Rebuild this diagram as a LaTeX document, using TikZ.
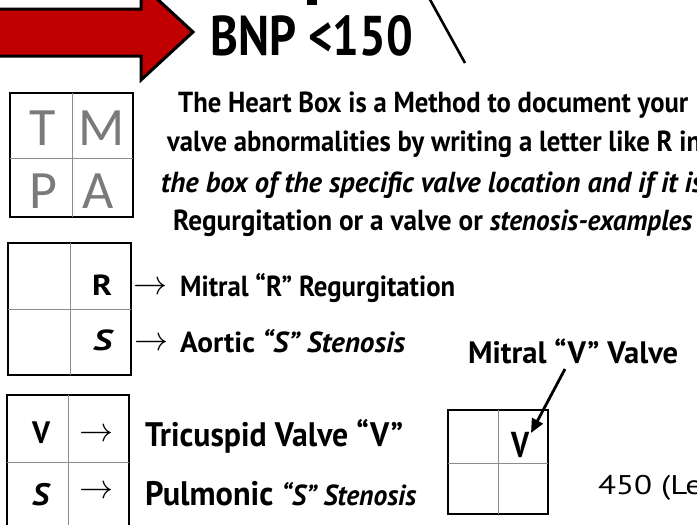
\documentclass[tikz,border=0pt]{standalone}
\usepackage{fontspec}
\usepackage{graphicx}
\setmainfont{PT Sans}
\newfontfamily\tmpafont{Carlito}
\usetikzlibrary{arrows.meta}
\definecolor{arrowred}{HTML}{C00000}
\definecolor{cellgray}{HTML}{8C8C8C}
\definecolor{lettergray}{HTML}{7A7A7A}
\newbox\fitbox
\newdimen\fitdim
\newcommand\fitto[2]{\setbox\fitbox=\hbox{#2}\fitdim=\wd\fitbox\pgfmathsetmacro\fsx{#1/\the\fitdim}\scalebox{\fsx}[1]{\box\fitbox}}
\newcommand\fsz[1]{\fontsize{#1}{#1}\selectfont}
\newcommand\bigarrow{\scalebox{3.4}{$\rightarrow$}}
\tikzset{
  lbl/.style={anchor=base west, inner sep=0pt, font=\bfseries},
  glyph/.style={anchor=base west, inner sep=0pt, font=\normalfont},
  outerbox/.style={draw=black, line width=1.8pt},
  divider/.style={draw=cellgray, line width=0.9pt},
  tmpa/.style={anchor=base, inner sep=0pt, text=lettergray, font=\tmpafont\fsz{54}},
}
\begin{document}
\begin{tikzpicture}[x=1pt,y=-1pt]
\useasboundingbox (0,0) rectangle (697,525);
\clip (0,0) rectangle (697,525);
\fill[white] (0,0) rectangle (697,525);

% big red arrow
\draw[fill=arrowred, line width=3pt, line join=miter]
  (-5,9) -- (141,9) -- (141,-16) -- (193,32) -- (141,80) -- (141,56) -- (-5,56) -- cycle;

% top fragments
\fill[black] (307,-2) rectangle (317,5);
\coordinate (diagA) at (428,-4);
\coordinate (diagB) at (465,63);
\draw[line width=2.6pt] (diagA) -- (diagB);

\node[lbl] (bnp) at (210,55) {\fitto{203}{\fsz{56}BNP <150}};

% paragraph
\node[lbl] (p1) at (178,112) {\fitto{510}{\fsz{29}The Heart Box is a Method to document your}};
\node[lbl] (p2) at (167,151) {\fitto{534}{\fsz{29}valve abnormalities by writing a letter like R in}};
\node[lbl] (p3) at (161,192) {\fitto{542}{\fsz{29}\itshape the box of the specific valve location and if it is}};
\node[lbl] (p4) at (173,230) {\fitto{519}{\fsz{29}Regurgitation or a valve or \itshape stenosis-examples}};

% TMPA box
\draw[outerbox] (10,93) rectangle (133,217);
\draw[divider] (72,93) -- (72,217);
\draw[divider] (10,158) -- (133,158);
\node[tmpa] (T) at (43,145) {T};
\node[tmpa] (M) at (102,145) {M};
\node[tmpa] (P) at (43,208) {P};
\node[tmpa] (A) at (98,208) {A};

% R / S box
\draw[outerbox] (8,243) rectangle (131,375);
\draw[divider] (70,243) -- (70,375);
\draw[divider] (8,309) -- (131,309);
\node[lbl] (R) at (92,295) {\fitto{20}{\fsz{29}R}};
\node[lbl] (S1) at (93,350) {\fitto{19}{\fsz{29}\itshape S}};
\node[glyph] (ar1) at (133,294.5) {\bigarrow};
\node[glyph] (ar2) at (134,350.5) {\bigarrow};
\node[lbl] (mitR) at (180,296) {\fitto{275}{\fsz{29}Mitral “R” Regurgitation}};
\node[lbl] (aoS) at (180,352) {\fitto{225}{\fsz{29}Aortic \itshape “S” Stenosis}};

% V / S box
\draw[outerbox] (7,395) rectangle (129,535);
\draw[divider] (68,395) -- (68,535);
\draw[divider] (7,462) -- (129,462);
\node[lbl] (V1) at (32,443) {\fitto{18}{\fsz{31}V}};
\node[lbl] (S2) at (32,505) {\fitto{17}{\fsz{31}\itshape S}};
\node[glyph] (ar3) at (79,441.5) {\bigarrow};
\node[glyph] (ar4) at (79,498.5) {\bigarrow};
\node[lbl] (tri) at (145,446) {\fitto{258}{\fsz{34}Tricuspid Valve “V”}};
\node[lbl] (pul) at (145,505) {\fitto{271}{\fsz{34}Pulmonic \fsz{29}\itshape “S” Stenosis}};

% small box with V
\draw[line width=1.4pt] (448,410) rectangle (548,514);
\draw[divider] (498,410) -- (498,514);
\draw[divider] (448,463) -- (548,463);
\node[lbl] (V2) at (511,457) {\fitto{18}{\fsz{36}V}};
\node[lbl] (mitV) at (468,363) {\fitto{210}{\fsz{31}Mitral “V” Valve}};
\coordinate (mvStart) at (565,369);
\coordinate (mvEnd) at (531,433);
\draw[line width=2.8pt, -{Triangle[length=14pt,width=12pt]}] (mvStart) -- (mvEnd);

\node[anchor=base west, inner sep=0pt] (n450) at (598,494) {\fitto{104}{\fsz{27}450 (Le}};
\end{tikzpicture}
\end{document}
